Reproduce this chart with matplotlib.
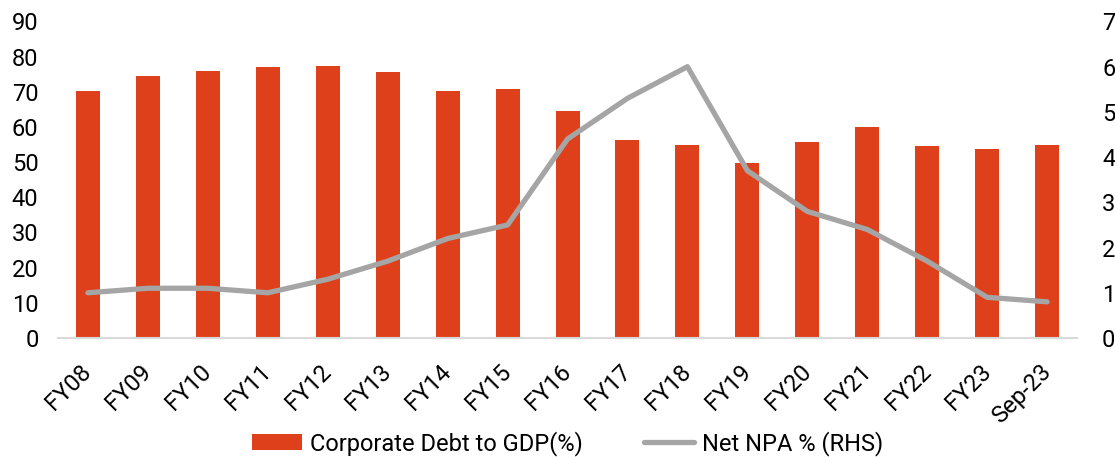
import matplotlib.pyplot as plt
import numpy as np

plt.rcParams["font.family"] = ["Roboto", "DejaVu Sans"]

periods = ["FY08", "FY09", "FY10", "FY11", "FY12", "FY13", "FY14", "FY15", "FY16",
           "FY17", "FY18", "FY19", "FY20", "FY21", "FY22", "FY23", "Sep-23"]
corp_debt_gdp = [70.2, 74.4, 75.9, 77.0, 77.4, 75.5, 70.2, 70.8, 64.5,
                 56.2, 54.9, 49.7, 55.7, 59.9, 54.7, 53.8, 54.8]
net_npa = [1.0, 1.1, 1.1, 1.0, 1.3, 1.7, 2.2, 2.5, 4.4,
           5.3, 6.0, 3.7, 2.8, 2.4, 1.7, 0.9, 0.8]

BAR_COLOR = "#DD401A"
LINE_COLOR = "#A5A5A5"

fig = plt.figure(figsize=(11.15, 4.57), dpi=100)
ax = fig.add_axes([0.052, 0.2604, 0.914, 0.6926])
ax2 = ax.twinx()

x = np.arange(len(periods))
bars = ax.bar(x, corp_debt_gdp, width=0.4, color=BAR_COLOR,
              label="Corporate Debt to GDP(%)", zorder=2)
line, = ax2.plot(x, net_npa, color=LINE_COLOR, linewidth=3.8,
                 solid_capstyle="round", label="Net NPA % (RHS)", zorder=3)

ax.set_xlim(-0.5, len(periods) - 0.5)
ax.set_ylim(0, 90)
ax2.set_ylim(0, 7)
ax.set_yticks(range(0, 91, 10))
ax2.set_yticks(range(0, 8))

ax.set_xticks(x)
ax.set_xticklabels(periods, rotation=45, ha="right", va="center",
                   rotation_mode="anchor")

for a in (ax, ax2):
    for side in ("top", "left", "right", "bottom"):
        a.spines[side].set_visible(False)
    a.tick_params(length=0, labelsize=17, colors="#000000")
ax.spines["bottom"].set_visible(True)
ax.spines["bottom"].set_color("#D9D9D9")
ax.spines["bottom"].set_linewidth(1.5)
ax.tick_params(axis="y", pad=14)
ax.tick_params(axis="x", pad=22)
ax2.tick_params(axis="y", pad=18)

fig.legend(handles=[bars, line], loc="center", bbox_to_anchor=(0.509, 0.03),
           ncol=2, frameon=False, fontsize=17, columnspacing=2.6,
           handlelength=2.1, handletextpad=0.35)

fig.savefig("out.png", dpi=100)
